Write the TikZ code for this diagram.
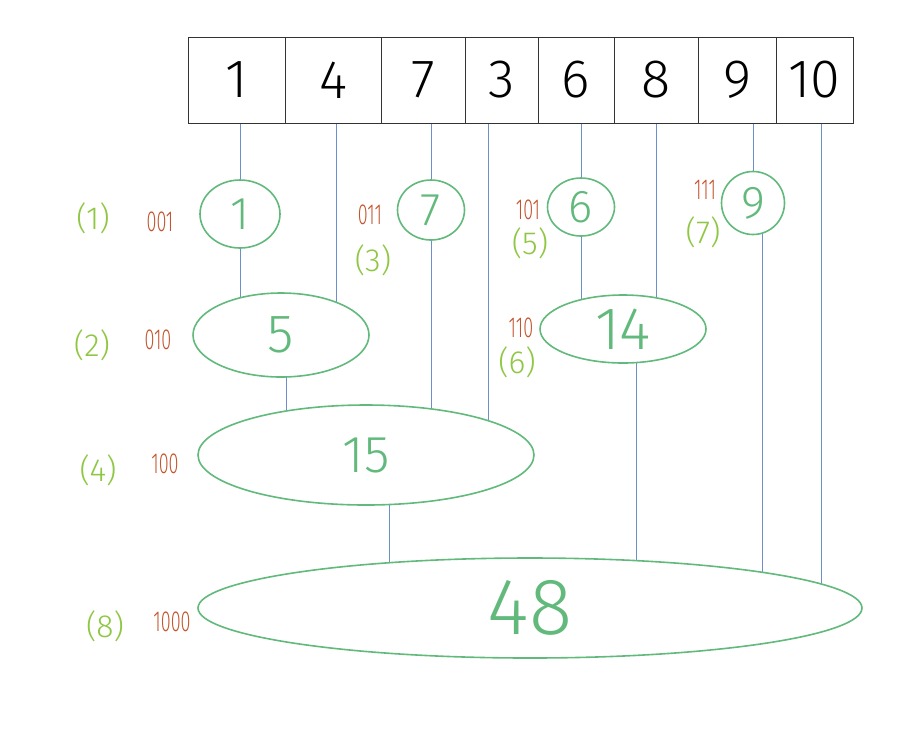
\documentclass[tikz,border=0pt]{standalone}
\usepackage{fontspec}
\setmainfont{Fira Sans}[UprightFont=* Light]
\usetikzlibrary{shapes.geometric,backgrounds}
\definecolor{linkblue}{HTML}{6F8FCB}
\definecolor{treegreen}{HTML}{62B97C}
\definecolor{idxgreen}{HTML}{8FC744}
\definecolor{bitred}{HTML}{C2552E}
\tikzset{
  cell/.style={draw=black!80, line width=0.9pt, minimum height=86pt, inner sep=0pt,
    font=\fontsize{54}{54}\selectfont},
  tnode/.style={ellipse, draw=treegreen, line width=1.6pt, fill=white, inner sep=0pt,
    text=treegreen},
  link/.style={draw=linkblue, line width=1pt},
  idx/.style={text=idxgreen, inner sep=0pt, font=\fontsize{32}{32}\selectfont},
  bits/.style={text=bitred, inner sep=0pt, font=\fontsize{29}{29}\selectfont},
}
\newcommand{\narrow}[1]{\scalebox{0.62}[1]{#1}}
\begin{document}
\begin{tikzpicture}[x=1pt,y=-1pt]
\useasboundingbox (0,0) rectangle (912,740);

% the array a[1..8]
\node[cell, minimum width=97pt] (a1) at (236.5,80) {1};
\node[cell, minimum width=96pt] (a2) at (333,80) {4};
\node[cell, minimum width=84pt] (a3) at (423,80) {7};
\node[cell, minimum width=73pt] (a4) at (501.5,80) {3};
\node[cell, minimum width=76pt] (a5) at (576,80) {6};
\node[cell, minimum width=84pt] (a6) at (656,80) {8};
\node[cell, minimum width=78pt] (a7) at (737,80) {9};
\node[cell, minimum width=77pt] (a8) at (814.5,80) {10};

% tree array c[1..8]
\node[tnode, minimum width=80pt, minimum height=68pt, font=\fontsize{46}{46}\selectfont] (t1) at (240,214) {1};
\node[tnode, minimum width=67pt, minimum height=60pt, font=\fontsize{46}{46}\selectfont] (t3) at (431,210) {7};
\node[tnode, minimum width=67pt, minimum height=58pt, font=\fontsize{46}{46}\selectfont] (t5) at (581,207) {6};
\node[tnode, minimum width=63pt, minimum height=63pt, font=\fontsize{46}{46}\selectfont] (t7) at (753,203) {9};
\node[tnode, minimum width=176pt, minimum height=84pt, font=\fontsize{54}{54}\selectfont] (t2) at (281,335) {5};
\node[tnode, minimum width=166pt, minimum height=68pt, font=\fontsize{60}{60}\selectfont] (t6) at (623,329) {14};
\node[tnode, minimum width=336pt, minimum height=100pt, font=\fontsize{52}{52}\selectfont] (t4) at (366,455) {15};
\node[tnode, minimum width=664pt, minimum height=100pt, font=\fontsize{80}{80}\selectfont] (t8) at (530,608) {48};

% links from the array and between tree nodes
\begin{scope}[on background layer]
  \draw[link] (t1.center |- a1.south) -- (t1.center |- t2.center);
  \draw[link] ([xshift=3pt]a2.south) -- ([xshift=3pt]a2.south |- t2.center);
  \draw[link] (t3.center |- a3.south) -- (t3.center |- t4.center);
  \draw[link] ([xshift=-13.5pt]a4.south) -- ([xshift=-13.5pt]a4.south |- t4.center);
  \draw[link] (t5.center |- a5.south) -- (t5.center |- t6.center);
  \draw[link] (a6.south) -- (a6.south |- t6.center);
  \draw[link] (t7.center |- a7.south) -- (t7.center);
  \draw[link] ([xshift=9pt]t7.center) -- ([xshift=9pt]t7.center |- t8.center);
  \draw[link] ([xshift=6.5pt]a8.south) -- ([xshift=6.5pt]a8.south |- t8.center);
  \draw[link] ([xshift=5pt]t2.center) -- ([xshift=5pt]t2.center |- t4.center);
  \draw[link] ([xshift=13pt]t6.center) -- ([xshift=13pt]t6.center |- t8.center);
  \draw[link] ([xshift=23pt]t4.center) -- ([xshift=23pt]t4.center |- t8.center);
\end{scope}

% index labels
\node[idx] (i1) at (93,218) {(1)};
\node[idx] (i2) at (92,345) {(2)};
\node[idx] (i3) at (373,260) {(3)};
\node[idx] (i4) at (98,470) {(4)};
\node[idx] (i5) at (530,243) {(5)};
\node[idx] (i6) at (517,362) {(6)};
\node[idx] (i7) at (703,232) {(7)};
\node[idx] (i8) at (105,626) {(8)};

% binary labels
\node[bits] (b1) at (160,222) {\narrow{001}};
\node[bits] (b2) at (158,340) {\narrow{010}};
\node[bits] (b3) at (370,215) {\narrow{011}};
\node[bits] (b4) at (165,464) {\narrow{100}};
\node[bits] (b5) at (528,210) {\narrow{101}};
\node[bits] (b6) at (521,328) {\narrow{110}};
\node[bits] (b7) at (705,190) {\narrow{111}};
\node[bits] (b8) at (172,622) {\narrow{1000}};
\end{tikzpicture}
\end{document}
